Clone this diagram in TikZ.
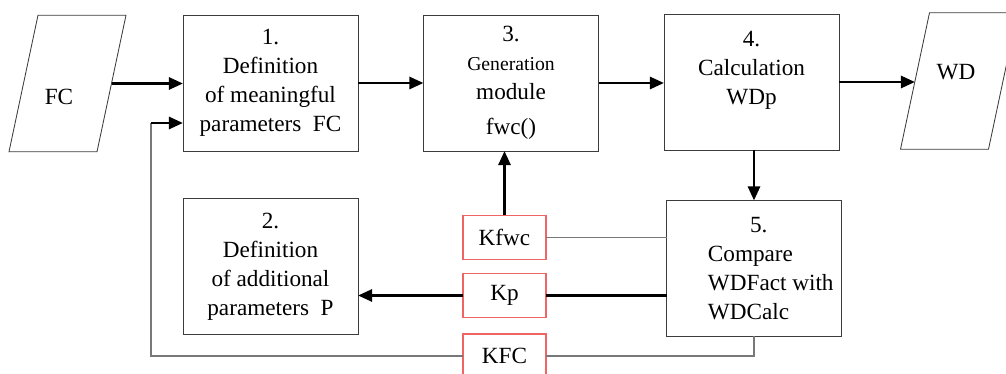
\documentclass[tikz,border=0pt]{standalone}
\usepackage{fontspec}
\setmainfont{Liberation Serif}
\usetikzlibrary{arrows.meta, calc, positioning}
\definecolor{kred}{RGB}{240,100,100}
\definecolor{lgray}{RGB}{120,120,120}
\definecolor{bgray}{RGB}{60,60,60}

\begin{document}
\begin{tikzpicture}[x=0.25mm, y=-0.25mm,
    every node/.style={font=\fontsize{16.5}{20.6}\selectfont},
    blk/.style={draw=bgray, line width=0.7pt, minimum width=43.75mm, minimum height=34mm, align=center, inner sep=0pt, outer sep=0pt},
    io/.style={minimum width=22mm, minimum height=34.125mm, inner sep=0pt, outer sep=0pt},
    ioline/.style={draw=bgray, line width=0.6pt},
    kbox/.style={draw=kred, line width=0.8pt, minimum width=20.75mm, minimum height=11mm, outer sep=0pt},
    arr/.style={line width=2pt, -{Triangle[length=10pt,width=8.5pt]}},
    fat/.style={line width=2pt},
    fine/.style={draw=lgray, line width=0.8pt}]
      \clip (0,0) rectangle (1006,374);
      % input / output
      \node[io] (fc) at (67.5,83.5) {};
      \node[io] (wd) at (959,81) {};
      \draw[ioline] ($(fc.north west)+(14.5,0)$) -- ($(fc.north east)+(14.5,0)$)
        -- ($(fc.south east)-(14.5,0)$) -- ($(fc.south west)-(14.5,0)$) -- cycle;
      \draw[ioline] ($(wd.north west)+(14.5,0)$) -- ($(wd.north east)+(14.5,0)$)
        -- ($(wd.south east)-(14.5,0)$) -- ($(wd.south west)-(14.5,0)$) -- cycle;
      \node (fclbl) at (59,97) {FC};
      \node (wdlbl) at (956,72) {WD};
      % blocks
      \node[blk] (def1) at (270.5,83) {1.\\Definition\\of meaningful\\parameters\ \ FC};
      \node[blk] (gen) at (511,83) {3.\\{\fontsize{14}{17}\selectfont Generation}\\module\\[4pt]fwc()};
      \node[blk] (calc) at (751.5,82) {4.\\Calculation\\WDp\\\mbox{}};
      \node[blk] (def2) at (270.5,266.5) {2.\\Definition\\of additional\\parameters\ \ P};
      \node[blk] (cmp) at (754,268.5) {};
      \node[align=left, anchor=west] (cmplbl) at (703,269) {\hspace*{30pt}5.\\Compare\\WDFact with\\WDCalc};
      \node[kbox] (kfwc) at (504.5,237.5) {Kfwc};
      \node[kbox] (kp) at (504.5,295.5) {Kp};
      \node[kbox] (kfc) at (504.5,356) {KFC};
      \coordinate (fb) at (151,123);

      \draw[arr] (fc.east) -- (fc.east -| def1.west);
      \draw[arr] (def1.east) -- (def1.east -| gen.west);
      \draw[arr] (gen.east) -- (gen.east -| calc.west);
      \draw[arr] (calc.east) -- (calc.east -| wd.west);
      \draw[arr] (cmp.north |- calc.south) -- (cmp.north);
      \draw[arr] (kfwc) -- (kfwc |- gen.south);
      \draw[fine] (kfwc) -- (kfwc -| cmp.west);
      \draw[fat] (cmp.west |- kp) -- (kp);
      \draw[arr] (kp) -- (kp -| def2.east);
      \draw[fine] (cmp.south) -- (cmp.south |- kfc) -- (kfc);
      \draw[fine] (kfc) -| (fb);
      \draw[arr] (fb) -- (fb -| def1.west);
\end{tikzpicture}
\end{document}
